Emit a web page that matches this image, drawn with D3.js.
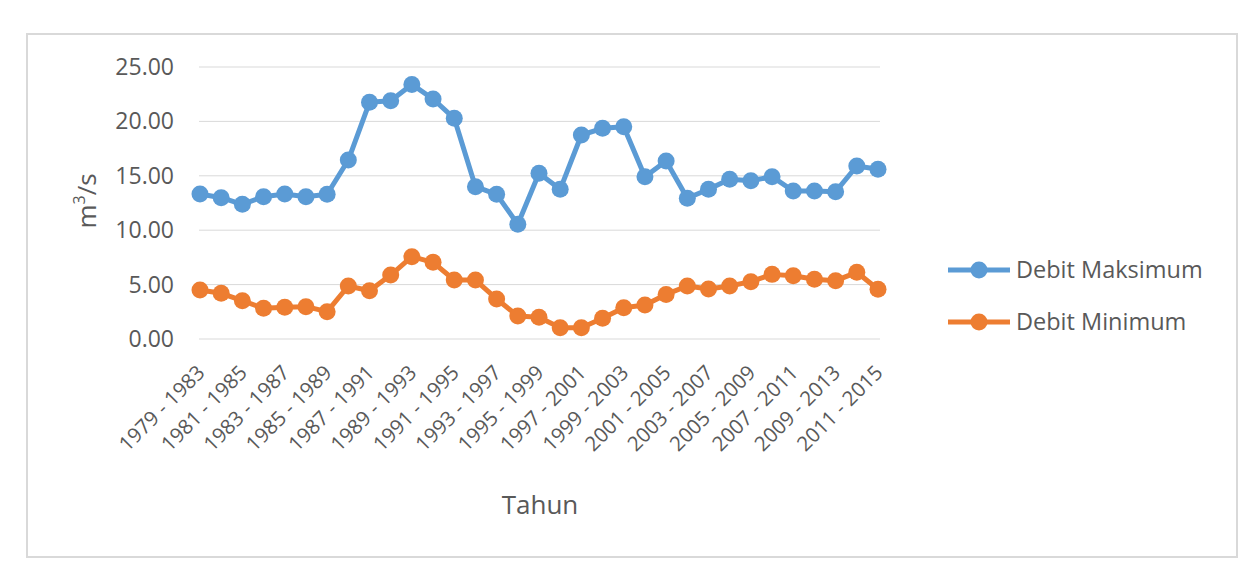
<!DOCTYPE html>
<html>
<head>
<meta charset="utf-8">
<script src="https://cdn.jsdelivr.net/npm/d3@7/dist/d3.min.js"></script>
<style>
    body { margin: 0; background: #fff; }
    text { font-family: "Open Sans", "Noto Sans", sans-serif; fill: #595959; }
</style>
</head>
<body>
<svg id="chart" width="1256" height="581"></svg>
<script>
// periode 5 tahunan (bergeser tiap tahun)
var periods = ['1979 - 1983', '1980 - 1984', '1981 - 1985', '1982 - 1986', '1983 - 1987', '1984 - 1988',
    '1985 - 1989', '1986 - 1990', '1987 - 1991', '1988 - 1992', '1989 - 1993', '1990 - 1994',
    '1991 - 1995', '1992 - 1996', '1993 - 1997', '1994 - 1998', '1995 - 1999', '1996 - 2000',
    '1997 - 2001', '1998 - 2002', '1999 - 2003', '2000 - 2004', '2001 - 2005', '2002 - 2006',
    '2003 - 2007', '2004 - 2008', '2005 - 2009', '2006 - 2010', '2007 - 2011', '2008 - 2012',
    '2009 - 2013', '2010 - 2014', '2011 - 2015'];

var debitMaks = [13.33, 12.99, 12.38, 13.08, 13.33, 13.08, 13.30, 16.45, 21.75, 21.90, 23.40,
    22.06, 20.28, 14.00, 13.30, 10.54, 15.23, 13.76, 18.75, 19.36, 19.51, 14.92, 16.36,
    12.93, 13.76, 14.68, 14.55, 14.92, 13.60, 13.60, 13.54, 15.90, 15.60];

var debitMin = [4.50, 4.20, 3.52, 2.82, 2.91, 2.97, 2.51, 4.87, 4.44, 5.88, 7.57, 7.05, 5.42,
    5.42, 3.68, 2.11, 1.99, 1.04, 1.04, 1.90, 2.88, 3.12, 4.10, 4.87, 4.60, 4.87, 5.27, 5.94,
    5.82, 5.49, 5.36, 6.13, 4.57];

var yTicks = [0, 5, 10, 15, 20, 25];

var series = [
    {name: 'Debit Maksimum', values: debitMaks, color: '#5B9BD5'},
    {name: 'Debit Minimum', values: debitMin, color: '#ED7D31'}
];

var svg = d3.select('#chart');

// bingkai luar
svg.append('rect')
    .attr('x', 27).attr('y', 34)
    .attr('width', 1210).attr('height', 523)
    .attr('fill', 'none')
    .attr('stroke', '#d9d9d9')
    .attr('stroke-width', 2);

var x = d3.scalePoint().domain(periods).range([200, 878]);
var y = d3.scaleLinear().domain([0, 25]).range([339, 67]);

// grid horizontal
svg.append('g').selectAll('line').data(yTicks).enter().append('line')
    .attr('x1', 199).attr('x2', 880)
    .attr('y1', function (d) { return y(d); })
    .attr('y2', function (d) { return y(d); })
    .attr('stroke', '#d9d9d9')
    .attr('stroke-width', 1);

// label sumbu y
svg.append('g').selectAll('text').data(yTicks).enter().append('text')
    .attr('x', 174)
    .attr('y', function (d) { return y(d); })
    .attr('dy', '0.35em')
    .attr('text-anchor', 'end')
    .style('font-size', '23px')
    .text(d3.format('.2f'));

// label sumbu x (tiap dua periode)
svg.append('g').selectAll('text')
    .data(periods.filter(function (d, i) { return i % 2 === 0; }))
    .enter().append('text')
    .attr('transform', function (d) {
        return 'translate(' + (x(d) + 6) + ',374) rotate(-45)';
    })
    .attr('text-anchor', 'end')
    .style('font-size', '20.5px')
    .text(function (d) { return d; });

// judul sumbu
svg.append('text')
    .attr('x', 540).attr('y', 514)
    .attr('text-anchor', 'middle')
    .style('font-size', '26px')
    .text('Tahun');

var yTitle = svg.append('text')
    .attr('transform', 'translate(96,201) rotate(-90)')
    .attr('text-anchor', 'middle')
    .style('font-size', '26px');
yTitle.append('tspan').text('m');
yTitle.append('tspan').attr('baseline-shift', 'super').style('font-size', '16px').text('3');
yTitle.append('tspan').text('/s');

var line = d3.line()
    .x(function (d, i) { return x(periods[i]); })
    .y(function (d) { return y(d); });

var groups = svg.selectAll('.series').data(series).enter().append('g')
    .attr('class', 'series');

groups.append('path')
    .attr('d', function (s) { return line(s.values); })
    .attr('fill', 'none')
    .attr('stroke', function (s) { return s.color; })
    .attr('stroke-width', 5)
    .attr('stroke-linejoin', 'round');

groups.each(function (s) {
    d3.select(this).selectAll('circle').data(s.values).enter().append('circle')
        .attr('cx', function (d, i) { return x(periods[i]); })
        .attr('cy', function (d) { return y(d); })
        .attr('r', 8.5)
        .attr('fill', s.color);
});

// legenda
var legend = svg.selectAll('.legend').data(series).enter().append('g')
    .attr('class', 'legend')
    .attr('transform', function (s, i) { return 'translate(0,' + (270 + i * 52) + ')'; });

legend.append('line')
    .attr('x1', 948).attr('x2', 1010)
    .attr('stroke', function (s) { return s.color; })
    .attr('stroke-width', 5);
legend.append('circle')
    .attr('cx', 979).attr('r', 8.5)
    .attr('fill', function (s) { return s.color; });
legend.append('text')
    .attr('x', 1016).attr('dy', '0.35em')
    .style('font-size', '23.5px')
    .text(function (s) { return s.name; });
</script>
</body>
</html>
